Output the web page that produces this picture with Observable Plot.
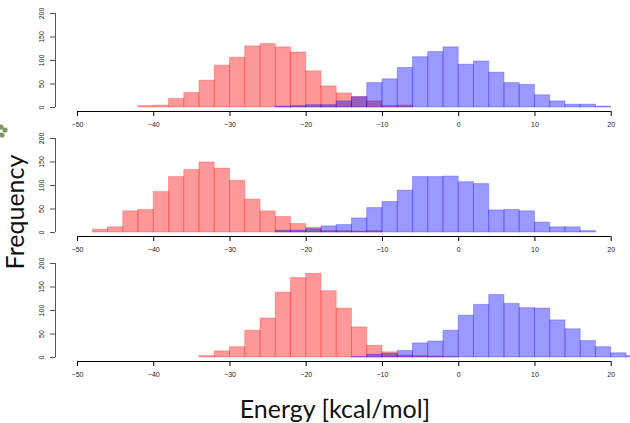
<!DOCTYPE html>
<html><head><meta charset="utf-8">
<script src="https://cdn.jsdelivr.net/npm/d3@7"></script>
<script src="https://cdn.jsdelivr.net/npm/@observablehq/plot@0.6"></script>
<style>
body{margin:0;background:#fff;}
#wrap{position:relative;width:630px;height:423px;overflow:hidden;background:#fff;}
.panel{position:absolute;left:0;}
#ylab{position:absolute;left:-86px;top:197px;width:200px;height:30px;line-height:30px;text-align:center;transform:rotate(-90deg);font-family:Lato,"Open Sans",sans-serif;font-size:25px;color:#111;white-space:nowrap;}
#xlab{position:absolute;left:185px;top:393px;width:300px;height:30px;line-height:30px;text-align:center;font-family:Lato,"Open Sans",sans-serif;font-size:25px;color:#111;white-space:nowrap;}
#deco{position:absolute;left:0;top:120px;}
</style></head>
<body>
<div id="wrap">
  <div id="ylab">Frequency</div>
  <div id="xlab">Energy [kcal/mol]</div>
  <svg id="deco" width="10" height="22"><g fill="#7d9a62"><circle cx="1" cy="7" r="2.6"/><circle cx="5" cy="10" r="2.6"/><circle cx="2" cy="15" r="2.6"/></g></svg>
</div>
<script>
const BIN = 2;
const xTicks = [-50, -40, -30, -20, -10, 0, 10, 20];
const yTicks = [0, 50, 100, 150, 200];

// Panel 1
const p1RedStart = -42;
const p1Red = [3, 4, 18, 31, 57, 89, 106, 130, 135, 128, 117, 77, 45, 30, 22, 13, 3, 4];
const p1BlueStart = -24;
const p1Blue = [2, 3, 5, 5, 13, 22, 52, 60, 84, 107, 118, 128, 91, 98, 74, 52, 48, 26, 13, 6, 6, 2];

// Panel 2
const p2RedStart = -48;
const p2Red = [6, 11, 45, 48, 86, 118, 133, 149, 136, 110, 70, 45, 33, 18, 10, 3, 3, 2, 3];
const p2BlueStart = -24;
const p2Blue = [4, 4, 7, 13, 16, 30, 52, 65, 89, 118, 118, 119, 107, 103, 47, 48, 45, 21, 11, 11, 3];

// Panel 3
const p3RedStart = -34;
const p3Red = [3, 13, 22, 57, 83, 138, 169, 178, 141, 104, 64, 25, 11, 4, 3, 2, 1];
const p3BlueStart = -14;
const p3Blue = [1, 6, 8, 14, 30, 34, 57, 89, 112, 133, 114, 105, 104, 79, 60, 35, 22, 9, 3];

function bins(start, counts) {
  return counts.map((n, i) => ({x1: start + i * BIN, x2: start + (i + 1) * BIN, n}));
}

function panel(rs, rc, bs, bc) {
  return Plot.plot({
    width: 630, height: 140,
    marginTop: 13, marginBottom: 29, marginLeft: 55, marginRight: 19.3,
    x: {domain: [-50, 20], insetLeft: 22},
    y: {domain: [0, 200], insetBottom: 4},
    style: {background: "transparent", fontFamily: "'Liberation Sans', Arial, sans-serif", color: "#222", overflow: "visible"},
    marks: [
      Plot.rect(bins(rs, rc), {x1: "x1", x2: "x2", y1: 0, y2: "n", fill: "red", fillOpacity: 0.4, stroke: "red", strokeOpacity: 0.25}),
      Plot.rect(bins(bs, bc), {x1: "x1", x2: "x2", y1: 0, y2: "n", fill: "blue", fillOpacity: 0.4, stroke: "blue", strokeOpacity: 0.25}),
      Plot.ruleY([0], {x1: -50, x2: 20, dy: 4, stroke: "black"}),
      Plot.axisX({ticks: xTicks, tickSize: 5, tickPadding: 6, fontSize: 7, stroke: "black", label: null, tickFormat: d => d < 0 ? "\u2212" + Math.abs(d) : String(d)}),
      Plot.ruleX([-50], {y1: 0, y2: 200, dx: -22, stroke: "#555"}),
      Plot.axisY({ticks: yTicks, tickSize: 5, tickRotate: -90, tickPadding: 7, fontSize: 7, stroke: "#555", label: null})
    ]
  });
}

const wrap = document.getElementById("wrap");
[[p1RedStart, p1Red, p1BlueStart, p1Blue], [p2RedStart, p2Red, p2BlueStart, p2Blue], [p3RedStart, p3Red, p3BlueStart, p3Blue]].forEach((p, i) => {
  const svg = panel(...p);
  svg.classList.add("panel");
  svg.style.top = (i * 125) + "px";
  wrap.appendChild(svg);
});
</script>
</body></html>
